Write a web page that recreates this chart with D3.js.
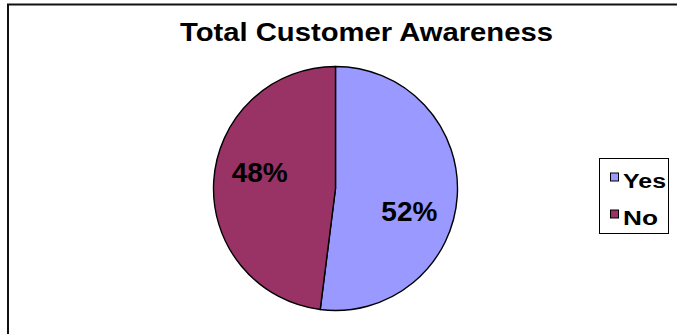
<!DOCTYPE html>
<html>
<head>
<meta charset="utf-8">
<script src="https://cdn.jsdelivr.net/npm/d3@7/dist/d3.min.js"></script>
<style>
  html, body { margin: 0; padding: 0; background: #fff; }
  svg { display: block; font-family: Arial, "Liberation Sans", sans-serif; }
</style>
</head>
<body>
<svg id="chart" width="677" height="334"></svg>
<script>
// Survey answers and their shares (percent)
const categories = ["Yes", "No"];
const shares = [52, 48];
const colors = ["#9999FF", "#993366"];
const titleText = "Total Customer Awareness";

const svg = d3.select("#chart");
const W = 677, H = 334;

// Outer chart frame (only left and top edges fall inside the view)
svg.append("rect")
  .attr("x", 8).attr("y", 4.5)
  .attr("width", W + 20).attr("height", H + 20)
  .attr("fill", "#fff")
  .attr("stroke", "#111").attr("stroke-width", 2);

// Title
svg.append("text")
  .attr("x", 366.5).attr("y", 41)
  .attr("text-anchor", "middle")
  .attr("font-size", 25).attr("font-weight", "bold")
  .attr("textLength", 373).attr("lengthAdjust", "spacingAndGlyphs")
  .attr("fill", "#000")
  .text(titleText);

// Pie
const cx = 335.5, cy = 188.5, r = 122;
const data = categories.map((c, i) => ({ cat: c, value: shares[i], color: colors[i] }));
const pie = d3.pie().sort(null).value(d => d.value).startAngle(0).endAngle(2 * Math.PI);
const arc = d3.arc().innerRadius(0).outerRadius(r);
const labelArc = d3.arc().innerRadius(74).outerRadius(74);
const arcs = pie(data);

const g = svg.append("g").attr("transform", `translate(${cx},${cy})`);
g.selectAll("path.slice")
  .data(arcs)
  .join("path")
  .attr("class", "slice")
  .attr("d", arc)
  .attr("fill", d => d.data.color)
  .attr("stroke", "#000")
  .attr("stroke-width", 1.4)
  .attr("stroke-linejoin", "round");

// Percentage labels inside slices
const labelShift = [[0, 18], [-2, -12]];
g.selectAll("text.pct")
  .data(arcs)
  .join("text")
  .attr("class", "pct")
  .attr("x", (d, i) => labelArc.centroid(d)[0] + labelShift[i][0])
  .attr("y", (d, i) => labelArc.centroid(d)[1] + labelShift[i][1] + 10)
  .attr("text-anchor", "middle")
  .attr("font-size", 28).attr("font-weight", "bold")
  .attr("fill", "#000")
  .text(d => d3.format(".0f")(d.data.value) + "%");

// Legend
const lg = svg.append("g").attr("transform", "translate(599.5,158.5)");
lg.append("rect")
  .attr("width", 69).attr("height", 75)
  .attr("fill", "#fff").attr("stroke", "#000").attr("stroke-width", 1);
const items = lg.selectAll("g.item")
  .data(data)
  .join("g")
  .attr("class", "item")
  .attr("transform", (d, i) => `translate(11,${14.5 + i * 37})`);
items.append("rect")
  .attr("width", 8).attr("height", 8)
  .attr("fill", d => d.color)
  .attr("stroke", "#000").attr("stroke-width", 1);
items.append("text")
  .attr("x", 12.5).attr("y", 14.5)
  .attr("font-size", 19.5).attr("font-weight", "bold")
  .attr("textLength", d => d.cat === "Yes" ? 43 : 35)
  .attr("lengthAdjust", "spacingAndGlyphs")
  .attr("fill", "#000")
  .text(d => d.cat);
</script>
</body>
</html>
